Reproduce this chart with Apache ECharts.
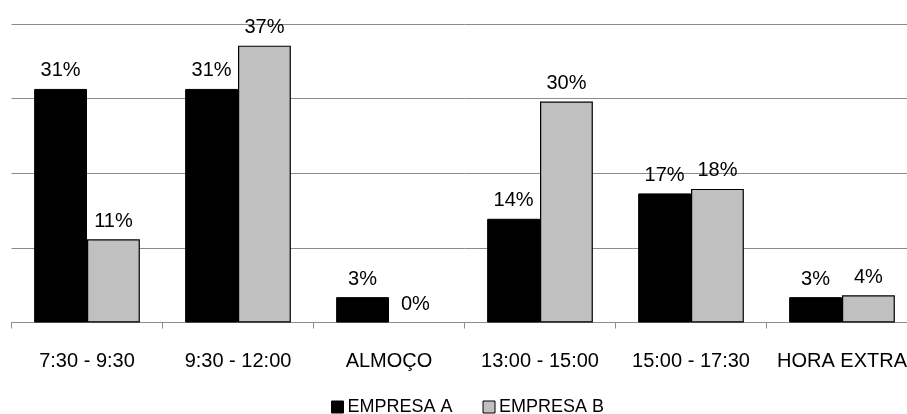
<!DOCTYPE html>
<html>
<head>
<meta charset="utf-8">
<script src="https://cdn.jsdelivr.net/npm/echarts@6/dist/echarts.min.js"></script>
<style>
html,body{margin:0;padding:0;background:#fff;overflow:hidden;width:907px;height:414px;}
#c{width:930px;height:414px;}
</style>
</head>
<body>
<div id="c"></div>
<script>
const categories = ['7:30 - 9:30', '9:30 - 12:00', 'ALMOÇO', '13:00 - 15:00', '15:00 - 17:30', 'HORA EXTRA'];
const seriesNames = ['EMPRESA A', 'EMPRESA B'];
const empresaA = [31.3, 31.3, 3.4, 13.9, 17.3, 3.4];
const empresaB = [11.15, 37.1, 0, 29.6, 17.9, 3.64];

const FONT = 'Liberation Sans, Arial, sans-serif';
const chart = echarts.init(document.getElementById('c'), null, {renderer: 'canvas'});
const labelCfg = {
  show: true,
  position: 'top',
  distance: 8,
  fontFamily: FONT,
  fontSize: 20,
  color: '#000',
  formatter: p => Math.round(p.value) + '%'
};
const toData = arr => arr.map(v => v === 0 ? {value: v, itemStyle: {borderWidth: 0}} : v);
chart.setOption({
  animation: false,
  backgroundColor: '#fff',
  grid: {left: 11.5, top: 24, width: 906, bottom: 91.5, containLabel: false},
  legend: {
    left: 326, top: 393,
    itemWidth: 12, itemHeight: 12, itemGap: 30,
    textStyle: {fontFamily: FONT, fontSize: 18, color: '#000', padding: [0, 0, 0, -1]},
    data: seriesNames.map((n, i) => ({name: n, icon: 'rect', itemStyle: {color: i ? '#C0C0C0' : '#000', borderColor: '#000', borderWidth: 1}}))
  },
  xAxis: {
    type: 'category',
    data: categories,
    axisLine: {show: true, lineStyle: {color: '#8c8c8c', width: 1}},
    axisTick: {show: true, length: 6, inside: false, lineStyle: {color: '#8c8c8c'}},
    axisLabel: {fontFamily: FONT, fontSize: 20, color: '#000', margin: 29, interval: 0}
  },
  yAxis: {
    type: 'value',
    min: 0, max: 40, interval: 10,
    axisLine: {show: false},
    axisTick: {show: false},
    axisLabel: {show: false},
    splitLine: {show: true, lineStyle: {color: '#8c8c8c', width: 1}}
  },
  series: [
    {
      name: seriesNames[0], type: 'bar', data: toData(empresaA),
      barGap: '0%', barCategoryGap: '30%',
      itemStyle: {color: '#000', borderColor: '#000', borderWidth: 1},
      label: labelCfg
    },
    {
      name: seriesNames[1], type: 'bar', data: toData(empresaB),
      barGap: '0%', barCategoryGap: '30%',
      itemStyle: {color: '#C0C0C0', borderColor: '#000', borderWidth: 1.2},
      label: labelCfg
    }
  ]
});
</script>
</body>
</html>
